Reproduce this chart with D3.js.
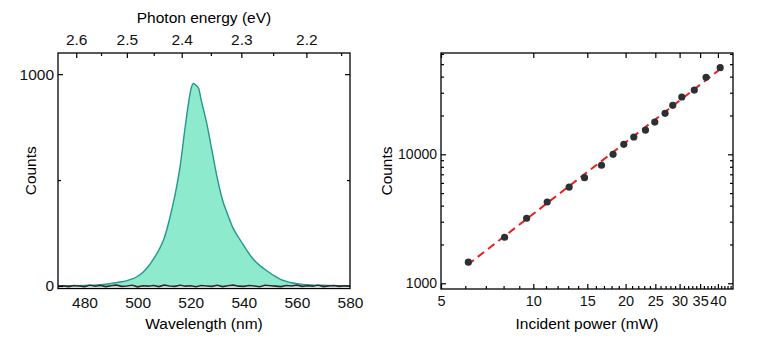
<!DOCTYPE html>
<html>
<head>
<meta charset="utf-8">
<script src="https://cdn.jsdelivr.net/npm/d3@7"></script>
<style>
  body { margin: 0; background: #fff; }
  svg { font-family: "Liberation Sans", Arial, sans-serif; }
  .axis path { display: none; }
  .axis line { stroke: #000; stroke-width: 1.2; }
  .axis text { fill: #111; }
</style>
</head>
<body>
<div id="chart"></div>
<script>
// left panel: PL spectrum
const wavelength = [470,475,480,485,488,490,492,494,496,498,500,502,504,506,508,510,512,514,516,518,519,520,521,522,523,524,526,528,530,532,534,536,538,540,542,544,546,548,550,552,554,556,558,560,565,570,575,580];
const spectrum = [0,1,2,5,8,12,16,20,25,33,46,65,92,128,170,225,315,425,565,760,850,925,956,948,932,875,770,640,510,405,335,272,230,190,152,120,97,78,60,44,30,22,15,11,5,3,1,0];

// dark background trace (every 2 nm from 470)
const darkWl = d3.range(470, 581, 2);
const darkCounts = [-2,1,-3,2,0,-4,3,-1,2,-3,1,4,-2,0,3,-4,1,-1,2,-3,4,0,-2,3,-1,1,-4,2,0,-2,3,-3,1,4,-1,-2,2,0,-4,3,1,-1,-3,2,0,4,-2,1,-1,3,-3,0,2,-2,1,-1];

const energyTicks = [2.6, 2.5, 2.4, 2.3, 2.2];
const energyMinor = [2.55, 2.45, 2.35, 2.25, 2.15];
const wlTicks = [480, 500, 520, 540, 560, 580];
const countTicks = [0, 1000];
const countMinor = [500];

// right panel: power dependence
const power = [6.14, 8.06, 9.51, 11.1, 13.09, 14.69, 16.69, 18.2, 19.73, 21.27, 23.22, 24.9, 26.9, 28.5, 30.5, 33.5, 36.6, 40.7];
const intensity = [1457, 2275, 3192, 4268, 5572, 6586, 8224, 10000, 11955, 13620, 15420, 17780, 20780, 23990, 27800, 31490, 39500, 46960];
const fitPower = [6.1, 40.2];
const fitCounts = [1390, 44700];
const powerTicks = [5, 10, 15, 20, 25, 30, 35, 40];
const powerMinor = d3.range(6, 45).filter(d => d % 5 !== 0);
const intensityTicks = [1000, 10000];
const intensityMinor = [2000,3000,4000,5000,6000,7000,8000,9000,20000,30000,40000,50000,60000];

const hc = 1239.84;
const W = 763, H = 344;
const fs = 15.5;
const svg = d3.select("#chart").append("svg").attr("width", W).attr("height", H);

// ---------- left panel ----------
const L = {x0: 58, x1: 350, y0: 53, y1: 288.5};
const x = d3.scaleLinear().domain([470, 580]).range([L.x0, L.x1]);
const y = d3.scaleLinear().domain([-12, 1100]).range([L.y1, L.y0]);

const gl = svg.append("g");
const pts = wavelength.map((d, i) => [d, spectrum[i]]);

gl.append("path").datum(pts)
  .attr("fill", "#8deacd")
  .attr("d", d3.area().x(d => x(d[0])).y0(y(0)).y1(d => y(d[1])).curve(d3.curveMonotoneX));
gl.append("path").datum(pts)
  .attr("fill", "none").attr("stroke", "#23978e").attr("stroke-width", 1.4)
  .attr("d", d3.line().x(d => x(d[0])).y(d => y(d[1])).curve(d3.curveMonotoneX));
gl.append("path").datum(darkWl.map((d, i) => [d, darkCounts[i]]))
  .attr("fill", "none").attr("stroke", "#2a2a2a").attr("stroke-width", 1.6)
  .attr("d", d3.line().x(d => x(d[0])).y(d => y(d[1])));

gl.append("g").attr("class", "axis").attr("transform", `translate(0,${L.y1})`)
  .call(d3.axisBottom(x).tickValues(wlTicks).tickSize(0).tickPadding(8))
  .selectAll("text").attr("font-size", fs);
gl.append("g").attr("class", "axis").attr("transform", `translate(0,${L.y0})`)
  .call(d3.axisTop(x).tickValues(energyTicks.map(e => hc / e)).tickFormat(d => (hc / d).toFixed(1)).tickSize(-5).tickPadding(8))
  .selectAll("text").attr("font-size", fs);
gl.append("g").attr("class", "axis").attr("transform", `translate(0,${L.y0})`)
  .call(d3.axisTop(x).tickValues(energyMinor.map(e => hc / e)).tickFormat("").tickSize(-3));
gl.append("g").attr("class", "axis").attr("transform", `translate(${L.x0},0)`)
  .call(d3.axisLeft(y).tickValues(countTicks).tickFormat(d3.format("d")).tickSize(-5).tickPadding(4))
  .selectAll("text").attr("font-size", fs);
gl.append("g").attr("class", "axis").attr("transform", `translate(${L.x0},0)`)
  .call(d3.axisLeft(y).tickValues(countMinor).tickFormat("").tickSize(-3));
gl.append("g").attr("class", "axis").attr("transform", `translate(${L.x1},0)`)
  .call(d3.axisRight(y).tickValues(countTicks.filter(d => d > 0)).tickFormat("").tickSize(-5));
gl.append("g").attr("class", "axis").attr("transform", `translate(${L.x1},0)`)
  .call(d3.axisRight(y).tickValues(countMinor).tickFormat("").tickSize(-3));

gl.append("rect").attr("x", L.x0).attr("y", L.y0).attr("width", L.x1 - L.x0).attr("height", L.y1 - L.y0)
  .attr("fill", "none").attr("stroke", "#000").attr("stroke-width", 1.3);

gl.append("text").attr("x", (L.x0 + L.x1) / 2).attr("y", 329).attr("text-anchor", "middle")
  .attr("font-size", fs).text("Wavelength (nm)");
gl.append("text").attr("x", (L.x0 + L.x1) / 2).attr("y", 23).attr("text-anchor", "middle")
  .attr("font-size", fs).text("Photon energy (eV)");
gl.append("text").attr("transform", `translate(36,${(L.y0 + L.y1) / 2}) rotate(-90)`)
  .attr("text-anchor", "middle").attr("font-size", fs).text("Counts");

// ---------- right panel ----------
const R = {x0: 441, x1: 733, y0: 53, y1: 289};
const px = d3.scaleLog().domain([5, 44.8]).range([R.x0, R.x1]);
const py = d3.scaleLog().domain([903, 61000]).range([R.y1, R.y0]);
const gr = svg.append("g");

gr.append("path").datum(fitPower.map((d, i) => [d, fitCounts[i]]))
  .attr("fill", "none").attr("stroke", "#ee1c1c").attr("stroke-width", 2)
  .attr("stroke-dasharray", "8,5")
  .attr("d", d3.line().x(d => px(d[0])).y(d => py(d[1])));
gr.selectAll("circle").data(power).enter().append("circle")
  .attr("cx", d => px(d)).attr("cy", (d, i) => py(intensity[i])).attr("r", 3.6)
  .attr("fill", "#2c3033");

gr.append("g").attr("class", "axis").attr("transform", `translate(0,${R.y1})`)
  .call(d3.axisBottom(px).tickValues(powerTicks).tickFormat(d3.format("d")).tickSize(-5).tickPadding(7))
  .selectAll("text").attr("font-size", 14.5);
gr.append("g").attr("class", "axis").attr("transform", `translate(0,${R.y1})`)
  .call(d3.axisBottom(px).tickValues(powerMinor).tickFormat("").tickSize(-3));
gr.append("g").attr("class", "axis").attr("transform", `translate(0,${R.y0})`)
  .call(d3.axisTop(px).tickValues(powerTicks).tickFormat("").tickSize(-5));
gr.append("g").attr("class", "axis").attr("transform", `translate(${R.x0},0)`)
  .call(d3.axisLeft(py).tickValues(intensityTicks).tickFormat(d3.format("d")).tickSize(-5).tickPadding(4))
  .selectAll("text").attr("font-size", 14);
gr.append("g").attr("class", "axis").attr("transform", `translate(${R.x0},0)`)
  .call(d3.axisLeft(py).tickValues(intensityMinor).tickFormat("").tickSize(-3));
gr.append("g").attr("class", "axis").attr("transform", `translate(${R.x1},0)`)
  .call(d3.axisRight(py).tickValues(intensityTicks).tickFormat("").tickSize(-5));
gr.append("g").attr("class", "axis").attr("transform", `translate(${R.x1},0)`)
  .call(d3.axisRight(py).tickValues(intensityMinor).tickFormat("").tickSize(-3));

gr.append("rect").attr("x", R.x0).attr("y", R.y0).attr("width", R.x1 - R.x0).attr("height", R.y1 - R.y0)
  .attr("fill", "none").attr("stroke", "#000").attr("stroke-width", 1.3);

gr.append("text").attr("x", 587).attr("y", 329).attr("text-anchor", "middle")
  .attr("font-size", fs).text("Incident power (mW)");
gr.append("text").attr("transform", `translate(392,${(R.y0 + R.y1) / 2}) rotate(-90)`)
  .attr("text-anchor", "middle").attr("font-size", fs).text("Counts");
</script>
</body>
</html>
